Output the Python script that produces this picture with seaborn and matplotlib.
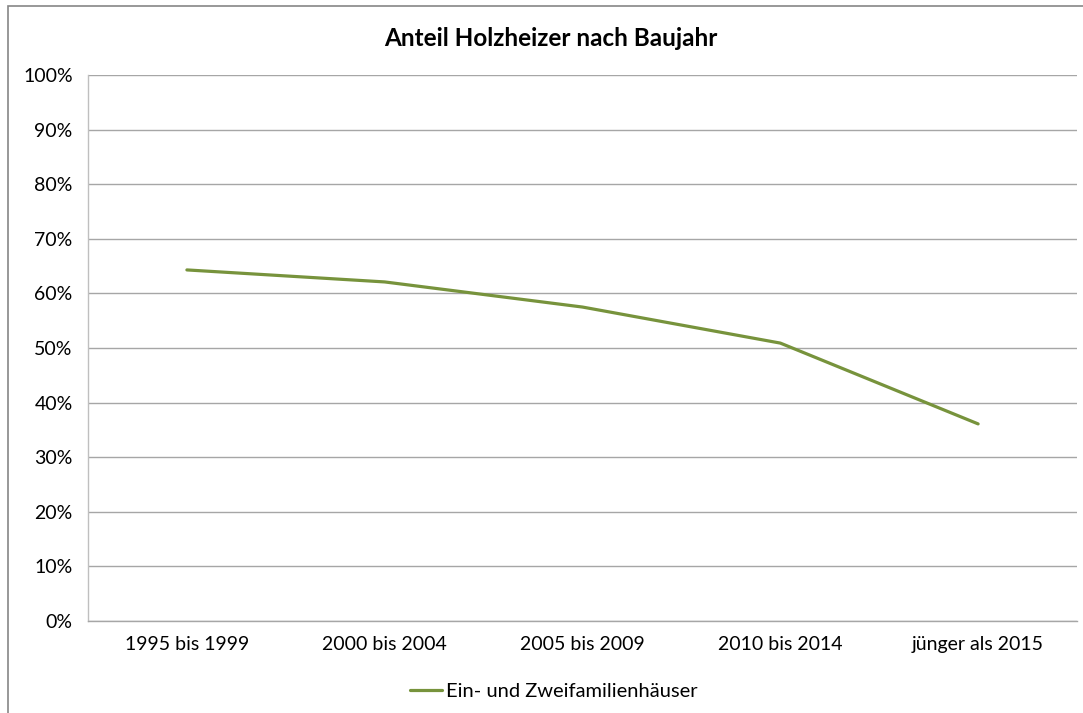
import pandas as pd
import seaborn as sns
import matplotlib.pyplot as plt
from matplotlib.patches import Rectangle
from matplotlib.ticker import PercentFormatter, FixedLocator

# data
baujahr = ["1995 bis 1999", "2000 bis 2004", "2005 bis 2009", "2010 bis 2014", "jünger als 2015"]
anteil = [0.643, 0.621, 0.575, 0.509, 0.361]
serie = "Ein- und Zweifamilienhäuser"

df = pd.DataFrame({"Baujahr": baujahr, "Anteil": anteil, "Serie": serie})

sns.set_style("white")
plt.rcParams["font.family"] = ["Lato", "DejaVu Sans"]
plt.rcParams["text.color"] = "black"

fig = plt.figure(figsize=(10.83, 7.13), dpi=100)
ax = fig.add_axes([88 / 1083, 1 - 621 / 713, (1077 - 88) / 1083, (621 - 75) / 713])

sns.lineplot(data=df, x="Baujahr", y="Anteil", hue="Serie", palette=["#77933C"],
             linewidth=2.3, sort=False, ax=ax)

ax.set_xlim(-0.5, len(baujahr) - 0.5)
ax.set_ylim(0, 1)
ax.set_yticks([i / 10 for i in range(11)])
ax.yaxis.set_major_formatter(PercentFormatter(1.0, decimals=0))
ax.grid(axis="y", color="#A6A6A6", linewidth=1)
ax.set_axisbelow(True)

ax.xaxis.set_minor_locator(FixedLocator([i - 0.5 for i in range(len(baujahr) + 1)]))
ax.tick_params(axis="x", which="major", length=0, pad=11, labelsize=14, labelcolor="black")
ax.tick_params(axis="x", which="minor", length=6, width=1, color="#BFBFBF", direction="out")
ax.tick_params(axis="y", length=7, width=1, color="#BFBFBF", direction="out", labelsize=14,
               labelcolor="black", pad=4)

for side in ["top", "right"]:
    ax.spines[side].set_visible(False)
ax.spines["left"].set_color("#BFBFBF")
ax.spines["bottom"].set_color("#A6A6A6")
ax.spines["left"].set_linewidth(1)
ax.spines["bottom"].set_linewidth(1)

ax.set_xlabel("")
ax.set_ylabel("")

ax.legend(loc="center", bbox_to_anchor=(554 / 1083, 1 - 691 / 713), bbox_transform=fig.transFigure,
          frameon=False, fontsize=14.5, handlelength=1.6, handletextpad=0.2)

fig.text(551 / 1083, 1 - 38 / 713, "Anteil Holzheizer nach Baujahr", ha="center", va="center",
         fontsize=17.5, fontweight="bold", color="black")

fig.patches.append(Rectangle((8 / 1083, -0.05), 1.1, 1.05 - 6 / 713, transform=fig.transFigure,
                             fill=False, edgecolor="#868686", linewidth=1.2))

fig.savefig("out.png", dpi=100)
